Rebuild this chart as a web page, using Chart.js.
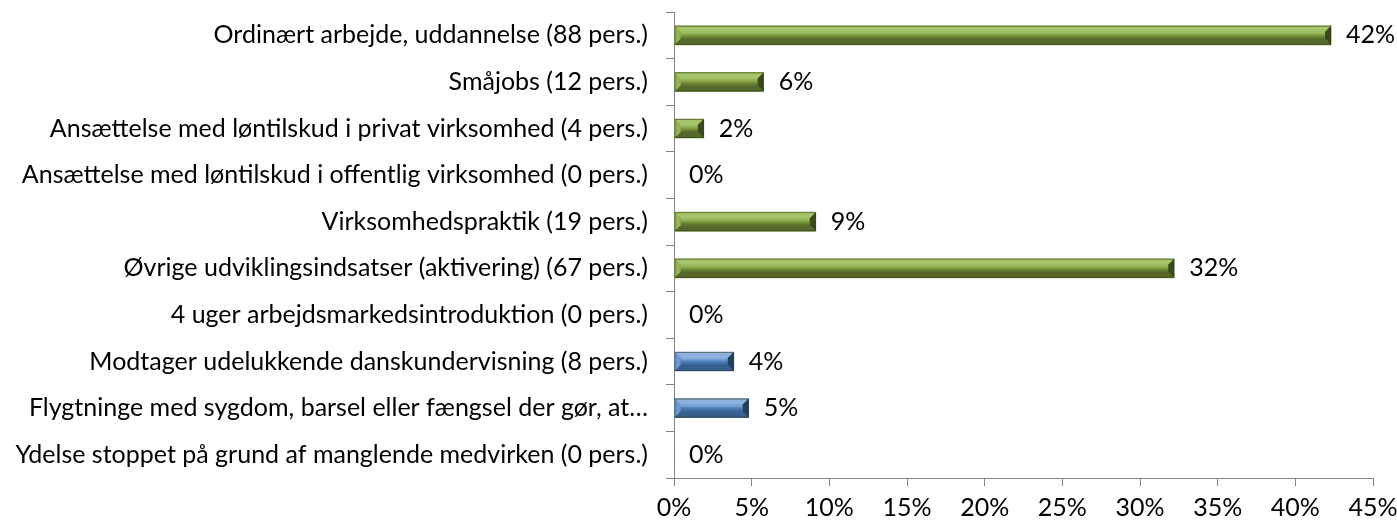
<!DOCTYPE html>
<html>
<head>
<meta charset="utf-8">
<script src="https://cdn.jsdelivr.net/npm/chart.js@4"></script>
<style>
  html, body { margin: 0; padding: 0; background: #fff; }
  #wrap { width: 1397px; height: 525px; }
</style>
</head>
<body>
<div id="wrap"><canvas id="chart" width="1397" height="525"></canvas></div>
<script>
// chart data
const categories = [
    "Ordinært arbejde, uddannelse (88 pers.)",
    "Småjobs (12 pers.)",
    "Ansættelse med løntilskud i privat virksomhed (4 pers.)",
    "Ansættelse med løntilskud i offentlig virksomhed (0 pers.)",
    "Virksomhedspraktik (19 pers.)",
    "Øvrige udviklingsindsatser (aktivering) (67 pers.)",
    "4 uger arbejdsmarkedsintroduktion (0 pers.)",
    "Modtager udelukkende danskundervisning (8 pers.)",
    "Flygtninge med sygdom, barsel eller fængsel der gør, at…",
    "Ydelse stoppet på grund af manglende medvirken (0 pers.)"
];
const shares = [42.3, 5.77, 1.92, 0, 9.13, 32.2, 0, 3.85, 4.81, 0];
const xTicks = [0, 5, 10, 15, 20, 25, 30, 35, 40, 45];

const FONT = "Lato, 'Open Sans', sans-serif";
const FONT_SIZE = 25;
const green = { mid: "#7f9c3e", top: "#a6c46a", bottom: "#56692b", left: "#93b155", right: "#3a4a1c" };
const blue = { mid: "#4f81bd", top: "#8db1de", bottom: "#37608f", left: "#6d98cf", right: "#21405f" };
const paletteFor = i => (i < 7 ? green : blue);

// bevel look on each bar
const bevelPlugin = {
    id: "bevel",
    afterDatasetsDraw(chart) {
        const ctx = chart.ctx;
        chart.getDatasetMeta(0).data.forEach((bar, i) => {
            const x0 = bar.base, x1 = bar.x;
            const y0 = bar.y - bar.height / 2, y1 = bar.y + bar.height / 2;
            if (x1 - x0 < 1) return;
            const p = paletteFor(i);
            const b = Math.min(6, (x1 - x0) / 2);
            ctx.save();
            const poly = (pts, color) => {
                ctx.beginPath();
                ctx.moveTo(pts[0][0], pts[0][1]);
                pts.slice(1).forEach(q => ctx.lineTo(q[0], q[1]));
                ctx.closePath();
                ctx.fillStyle = color;
                ctx.fill();
            };
            const g = ctx.createLinearGradient(0, y0 + b, 0, y1 - b);
            g.addColorStop(0, p.top);
            g.addColorStop(0.5, p.mid);
            g.addColorStop(1, p.bottom);
            ctx.fillStyle = g;
            ctx.fillRect(x0 + b, y0 + b, x1 - x0 - 2 * b, y1 - y0 - 2 * b);
            poly([[x0, y0], [x1, y0], [x1 - b, y0 + b], [x0 + b, y0 + b]], p.top);
            poly([[x0, y1], [x1, y1], [x1 - b, y1 - b], [x0 + b, y1 - b]], p.bottom);
            poly([[x0, y0], [x0 + b, y0 + b], [x0 + b, y1 - b], [x0, y1]], p.left);
            poly([[x1, y0], [x1 - b, y0 + b], [x1 - b, y1 - b], [x1, y1]], p.right);
            ctx.strokeStyle = "rgba(40,50,20,0.5)";
            ctx.lineWidth = 1;
            ctx.strokeRect(x0 + 0.5, y0 + 0.5, x1 - x0 - 1, y1 - y0 - 1);
            ctx.restore();
        });
    }
};

// value labels next to the bars
const valueLabels = {
    id: "valueLabels",
    afterDatasetsDraw(chart) {
        const ctx = chart.ctx;
        ctx.save();
        ctx.font = FONT_SIZE + "px " + FONT;
        ctx.fillStyle = "#000";
        ctx.textAlign = "left";
        ctx.textBaseline = "middle";
        chart.getDatasetMeta(0).data.forEach((bar, i) => {
            ctx.fillText(Math.round(shares[i]) + "%", bar.x + 15, bar.y);
        });
        ctx.restore();
    }
};

new Chart(document.getElementById("chart"), {
    type: "bar",
    data: {
        labels: categories,
        datasets: [{
            data: shares,
            backgroundColor: shares.map((v, i) => paletteFor(i).mid),
            borderWidth: 0,
            barThickness: 19
        }]
    },
    options: {
        indexAxis: "y",
        responsive: false,
        animation: false,
        layout: { padding: { top: 12, right: 24, left: 0, bottom: 0 } },
        plugins: {
            legend: { display: false },
            tooltip: { enabled: false }
        },
        scales: {
            x: {
                min: 0,
                max: 45,
                afterBuildTicks: axis => { axis.ticks = xTicks.map(v => ({ value: v })); },
                afterFit: axis => {
                    axis.height = 47;
                    axis.paddingLeft = 0;
                    axis.paddingRight = 0;
                },
                ticks: {
                    callback: v => v + "%",
                    color: "#000",
                    font: { family: FONT, size: FONT_SIZE },
                    padding: 7,
                    maxRotation: 0
                },
                grid: { drawOnChartArea: false, tickLength: 8, color: "#868686" },
                border: { color: "#868686" }
            },
            y: {
                afterFit: axis => {
                    axis.width = 674;
                    axis.paddingTop = 0;
                    axis.paddingBottom = 0;
                },
                ticks: {
                    color: "#000",
                    font: { family: FONT, size: FONT_SIZE },
                    padding: 18
                },
                grid: { drawOnChartArea: false, tickLength: 8, color: "#868686", offset: true },
                border: { color: "#868686" }
            }
        }
    },
    plugins: [bevelPlugin, valueLabels]
});
</script>
</body>
</html>
